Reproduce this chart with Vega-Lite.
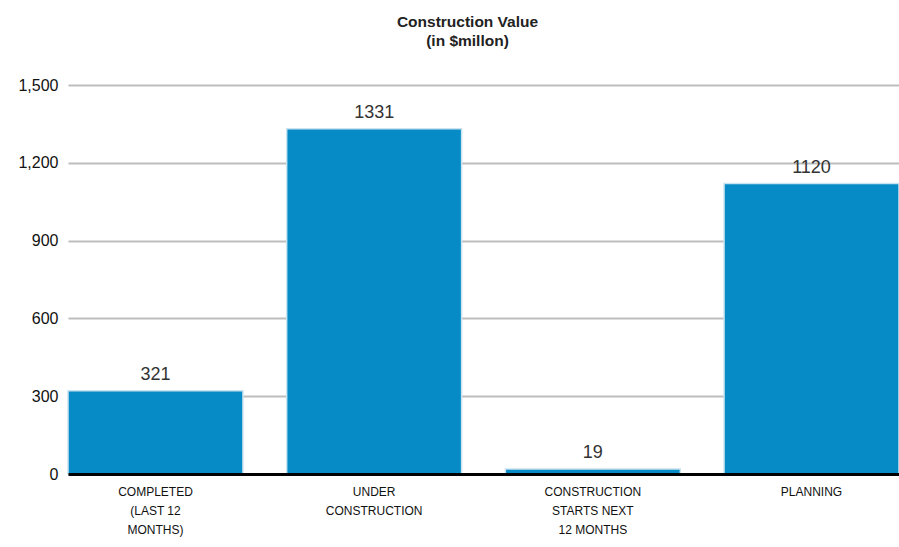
{
  "$schema": "https://vega.github.io/schema/vega-lite/v6.json",
  "width": 831,
  "height": 389,
  "autosize": {"type": "none"},
  "padding": {"left": 68, "top": 85, "right": 0, "bottom": 73},
  "title": {
    "text": ["Construction Value", "(in $millon)"],
    "font": "Liberation Sans",
    "fontSize": 15.5,
    "fontWeight": "bold",
    "color": "#222",
    "anchor": "middle",
    "dx": -16,
    "offset": 28,
    "lineHeight": 19
  },
  "config": {
    "view": {"stroke": null},
    "font": "Liberation Sans"
  },
  "data": {
    "values": [
      {"category": "COMPLETED|(LAST 12|MONTHS)", "value": 321},
      {"category": "UNDER|CONSTRUCTION", "value": 1331},
      {"category": "CONSTRUCTION|STARTS NEXT|12 MONTHS", "value": 19},
      {"category": "PLANNING", "value": 1120}
    ]
  },
  "encoding": {
    "x": {
      "field": "category",
      "type": "nominal",
      "sort": null,
      "scale": {"paddingInner": 0.2, "paddingOuter": 0},
      "axis": {
        "title": null,
        "labelAngle": 0,
        "labelExpr": "split(datum.label, '|')",
        "labelFont": "Liberation Sans",
        "labelFontSize": 12,
        "labelColor": "#111",
        "labelLineHeight": 19,
        "labelPadding": 12,
        "ticks": false,
        "domainColor": "#000",
        "domainWidth": 3,
        "grid": false,
        "zindex": 1
      }
    },
    "y": {
      "field": "value",
      "type": "quantitative",
      "scale": {"domain": [0, 1500]},
      "axis": {
        "title": null,
        "values": [0, 300, 600, 900, 1200, 1500],
        "format": ",.0f",
        "labelFont": "Liberation Sans",
        "labelFontSize": 16,
        "labelColor": "#111",
        "labelPadding": 10,
        "ticks": false,
        "domain": false,
        "gridColor": "#bdbdbd",
        "gridWidth": 2
      }
    }
  },
  "layer": [
    {
      "mark": {"type": "bar", "color": "#078bc7", "stroke": "#c9e3f0", "strokeWidth": 1.5}
    },
    {
      "mark": {"type": "text", "baseline": "bottom", "dy": -7, "fontSize": 18, "color": "#333", "font": "Liberation Sans"},
      "encoding": {"text": {"field": "value", "type": "quantitative", "format": "d"}}
    }
  ]
}
